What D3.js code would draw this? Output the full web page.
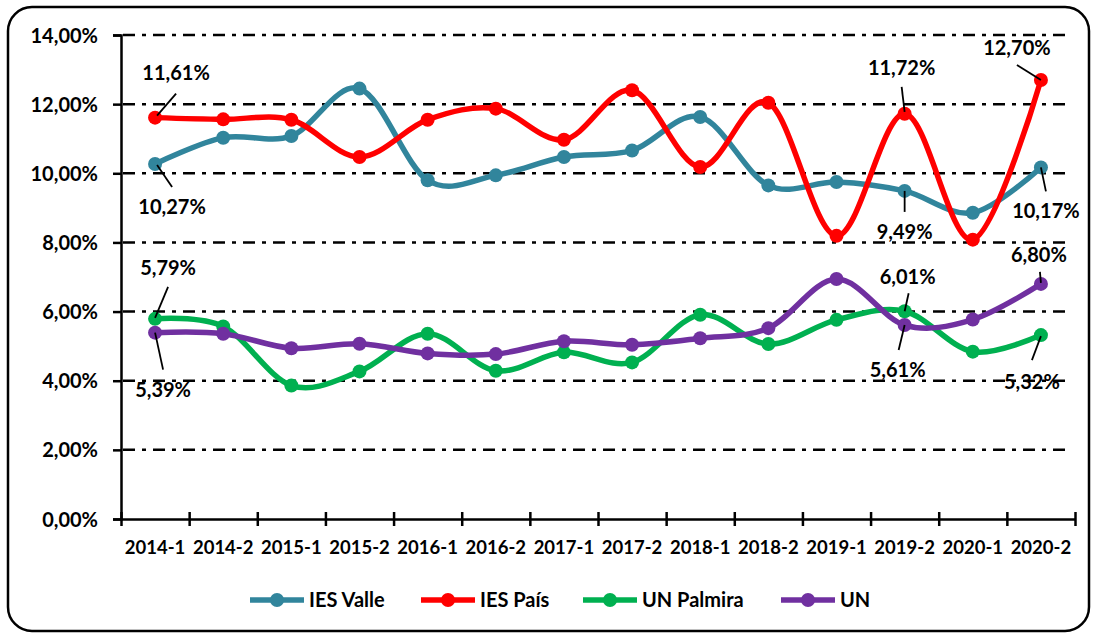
<!DOCTYPE html>
<html>
<head>
<meta charset="utf-8">
<script src="https://cdn.jsdelivr.net/npm/d3@7"></script>
<style>
  body { margin: 0; background: #fff; }
  svg text { font-family: Lato, "Open Sans", sans-serif; font-weight: bold; fill: #000; }
</style>
</head>
<body>
<svg width="1096" height="635"></svg>
<script>
// data
var periods = ["2014-1", "2014-2", "2015-1", "2015-2", "2016-1", "2016-2", "2017-1",
               "2017-2", "2018-1", "2018-2", "2019-1", "2019-2", "2020-1", "2020-2"];
var iesValle   = [10.27, 11.03, 11.08, 12.45, 9.80, 9.94, 10.47, 10.66, 11.63, 9.65, 9.75, 9.49, 8.86, 10.17];
var iesPais    = [11.61, 11.56, 11.55, 10.47, 11.55, 11.87, 10.97, 12.40, 10.18, 12.04, 8.19, 11.72, 8.08, 12.70];
var unPalmira  = [5.79, 5.57, 3.86, 4.27, 5.36, 4.29, 4.82, 4.53, 5.91, 5.06, 5.76, 6.01, 4.84, 5.32];
var un         = [5.39, 5.36, 4.94, 5.07, 4.79, 4.77, 5.14, 5.04, 5.23, 5.52, 6.94, 5.61, 5.77, 6.80];
var yTicks = [0, 2, 4, 6, 8, 10, 12, 14];

var series = [
  { name: "IES Valle",  values: iesValle,  color: "#31859C" },
  { name: "IES País",   values: iesPais,   color: "#FF0000" },
  { name: "UN Palmira", values: unPalmira, color: "#00B050" },
  { name: "UN",         values: un,        color: "#7030A0" }
];

// which points get a data label, and where the label sits relative to the point
var labelLayout = [
  { s: 1, i: 0,  dx: 21, dy: -45, l: [2, -2, 21, -24] },
  { s: 0, i: 0,  dx: 17, dy: 43,  l: [2, 1, 17, 23] },
  { s: 2, i: 0,  dx: 13, dy: -51, l: [0, -1, 13, -32] },
  { s: 3, i: 0,  dx: 8,  dy: 57,  l: [0, 0, 8, 37] },
  { s: 1, i: 13, dx: -24, dy: -32, l: [-24, -15, 0, 0] },
  { s: 1, i: 11, dx: -3, dy: -46, l: [-3, -27, 0, -2] },
  { s: 0, i: 11, dx: 0,  dy: 41,  l: [0, 0, 0, 21] },
  { s: 0, i: 13, dx: 5,  dy: 44,  l: [0, 0, 5, 24] },
  { s: 3, i: 13, dx: -2, dy: -29, l: [-1, -12, 0, -1] },
  { s: 2, i: 11, dx: 3,  dy: -34, l: [4, -18, 0, 0] },
  { s: 3, i: 11, dx: -7, dy: 45,  l: [0, 0, -6, 25] },
  { s: 2, i: 13, dx: -9, dy: 47,  l: [0, 1, -9, 25] }
];

var svg = d3.select("svg"),
  plotLeft = 121, plotRight = 1075, plotTop = 35, plotBottom = 519;

var fmt = function(v) { return v.toFixed(2).replace(".", ",") + "%"; };

// outer frame
svg.append("rect")
  .attr("x", 8).attr("y", 7)
  .attr("width", 1081).attr("height", 624)
  .attr("rx", 24).attr("ry", 24)
  .attr("fill", "#fff")
  .attr("stroke", "#000")
  .attr("stroke-width", 2.5);

var x = d3.scaleBand().domain(periods).range([plotLeft, plotRight]).paddingInner(0).paddingOuter(0);
var xEdge = d3.scaleLinear().domain([0, periods.length]).range([plotLeft, plotRight]);
var y = d3.scaleLinear().domain([0, 14]).range([plotBottom, plotTop]);
var cx = function(p) { return x(p) + x.bandwidth() / 2; };

// gridlines
svg.append("g")
  .selectAll("line")
  .data(yTicks.filter(function(d) { return d > 0; }))
  .enter().append("line")
  .attr("x1", plotLeft + 2).attr("x2", 1071)
  .attr("y1", function(d) { return y(d); })
  .attr("y2", function(d) { return y(d); })
  .attr("stroke", "#000")
  .attr("stroke-width", 2.5)
  .attr("stroke-dasharray", "12,7,4,7");

// y axis
var yAxis = svg.append("g")
  .attr("transform", "translate(" + plotLeft + ",0)")
  .call(d3.axisLeft(y).tickValues(yTicks).tickFormat(fmt).tickSize(8).tickPadding(15));
yAxis.select(".domain").attr("stroke", "#000").attr("stroke-width", 2.5);
yAxis.selectAll(".tick line").attr("stroke", "#000").attr("stroke-width", 2.5);
yAxis.selectAll("text").style("font-size", "20px").attr("dy", "0.35em");

// x axis (ticks on band edges, crossing the line)
var xAxis = svg.append("g")
  .attr("transform", "translate(0," + plotBottom + ")")
  .call(d3.axisBottom(xEdge).ticks(periods.length).tickFormat("").tickSize(7).tickSizeOuter(0));
xAxis.select(".domain").attr("stroke", "#000").attr("stroke-width", 2.5);
xAxis.selectAll(".tick line").attr("y1", -7).attr("stroke", "#000").attr("stroke-width", 2.5);

svg.append("g")
  .selectAll("text")
  .data(periods)
  .enter().append("text")
  .attr("x", cx)
  .attr("y", plotBottom + 29)
  .attr("dy", "0.35em")
  .attr("text-anchor", "middle")
  .style("font-size", "18.5px")
  .text(function(d) { return d; });

// series
var line = d3.line()
  .x(function(d, i) { return cx(periods[i]); })
  .y(function(d) { return y(d); })
  .curve(d3.curveCardinal.tension(0));

series.forEach(function(s) {
  var g = svg.append("g");
  g.append("path")
    .datum(s.values)
    .attr("fill", "none")
    .attr("stroke", s.color)
    .attr("stroke-width", 5.5)
    .attr("stroke-linejoin", "round")
    .attr("d", line);
  g.selectAll("circle")
    .data(s.values)
    .enter().append("circle")
    .attr("cx", function(d, i) { return cx(periods[i]); })
    .attr("cy", function(d) { return y(d); })
    .attr("r", 7)
    .attr("fill", s.color);
});

// data labels with leader lines
var lab = svg.append("g");
labelLayout.forEach(function(o) {
  var v = series[o.s].values[o.i],
    px = cx(periods[o.i]), py = y(v);
  lab.append("line")
    .attr("x1", px + o.l[0]).attr("y1", py + o.l[1])
    .attr("x2", px + o.l[2]).attr("y2", py + o.l[3])
    .attr("stroke", "#000")
    .attr("stroke-width", 1.8);
  lab.append("text")
    .attr("x", px + o.dx)
    .attr("y", py + o.dy)
    .attr("dy", "0.35em")
    .attr("text-anchor", "middle")
    .style("font-size", "20px")
    .text(fmt(v));
});

// legend
var legendX = [250, 421, 583, 781];
var leg = svg.append("g");
series.forEach(function(s, k) {
  var lx = legendX[k], ly = 600;
  leg.append("line")
    .attr("x1", lx).attr("x2", lx + 54)
    .attr("y1", ly).attr("y2", ly)
    .attr("stroke", s.color)
    .attr("stroke-width", 5.5);
  leg.append("circle")
    .attr("cx", lx + 27).attr("cy", ly)
    .attr("r", 7)
    .attr("fill", s.color);
  leg.append("text")
    .attr("x", lx + 59)
    .attr("y", ly)
    .attr("dy", "0.35em")
    .style("font-size", "20px")
    .text(s.name);
});
</script>
</body>
</html>
